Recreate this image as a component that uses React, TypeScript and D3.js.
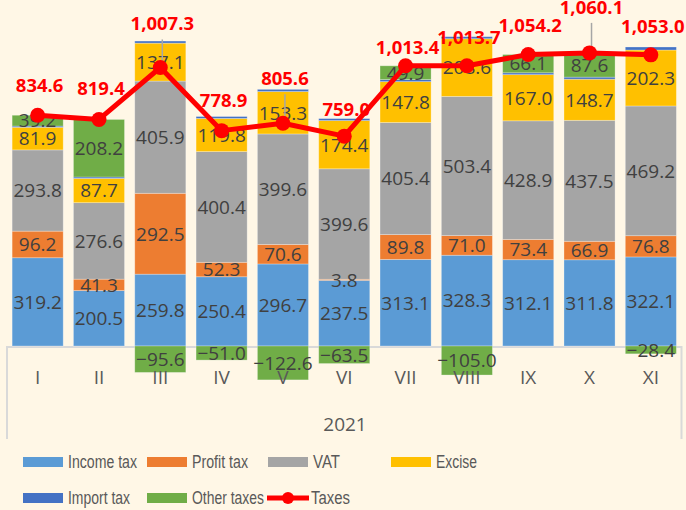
import React from 'react';
import * as d3 from 'd3';

const months = ['I', 'II', 'III', 'IV', 'V', 'VI', 'VII', 'VIII', 'IX', 'X', 'XI'];
const incomeTax = [319.2, 200.5, 259.8, 250.4, 296.7, 237.5, 313.1, 328.3, 312.1, 311.8, 322.1];
const profitTax = [96.2, 41.3, 292.5, 52.3, 70.6, 3.8, 89.8, 71.0, 73.4, 66.9, 76.8];
const vat = [293.8, 276.6, 405.9, 400.4, 399.6, 399.6, 405.4, 503.4, 428.9, 437.5, 469.2];
const excise = [81.9, 87.7, 137.1, 119.8, 153.3, 174.4, 147.8, 208.6, 167.0, 148.7, 202.3];
const importTax = [4.3, 5.1, 7.6, 7.0, 8.0, 7.2, 7.4, 7.4, 6.7, 7.6, 11.0];
const otherTaxes = [39.2, 208.2, -95.6, -51.0, -122.6, -63.5, 49.9, -105.0, 66.1, 87.6, -28.4];
const totalTaxes = [834.6, 819.4, 1007.3, 778.9, 805.6, 759.0, 1013.4, 1013.7, 1054.2, 1060.1, 1053.0];
const yearLabel = '2021';

const seriesNames = ['Income tax', 'Profit tax', 'VAT', 'Excise', 'Import tax', 'Other taxes'];
const seriesColors = ['#5B9BD5', '#ED7D31', '#A5A5A5', '#FFC000', '#4472C4', '#70AD47'];
const seriesLabelled = [true, true, true, true, false, true];

// how far the red total labels sit above their point (some were dragged up in the original)
const totalLabelLift = [23, 24, 37, 24, 38, 20, 12, 22, 23, 39, 22];

const width = 686;
const height = 510;
const bg = '#FFF7E6';
const fmt = d3.format(',.1f');

export default function App() {
    const columns = [incomeTax, profitTax, vat, excise, importTax, otherTaxes];
    const rows = months.map((m, i) => {
        const r: any = { month: m };
        seriesNames.forEach((s, k) => { r[s] = columns[k][i]; });
        return r;
    });

    const stacked = d3.stack<any>()
        .keys(seriesNames)
        .offset(d3.stackOffsetDiverging)(rows);

    const x = d3.scaleBand()
        .domain(months)
        .range([7, 681.5])
        .paddingInner(0.167)
        .paddingOuter(0.0835);

    const y = d3.scaleLinear()
        .domain([0, 1000])
        .range([346, 69.5]);

    const cx = (m: string) => (x(m) as number) + x.bandwidth() / 2;

    const line = d3.line<number>()
        .x((d, i) => cx(months[i]))
        .y(d => y(d));

    const dataFont = "'Open Sans', sans-serif";
    const legendFont = "'Liberation Sans', Arial, sans-serif";

    // legend slots; text squeezed to look like a narrow face
    const legendItems = [
        { name: 'Income tax', color: seriesColors[0], x: 23, y: 462, w: 69 },
        { name: 'Profit tax', color: seriesColors[1], x: 147, y: 462, w: 56 },
        { name: 'VAT', color: seriesColors[2], x: 268, y: 462, w: 27 },
        { name: 'Excise', color: seriesColors[3], x: 391, y: 462, w: 41 },
        { name: 'Import tax', color: seriesColors[4], x: 23, y: 498, w: 62 },
        { name: 'Other taxes', color: seriesColors[5], x: 147, y: 498, w: 72 },
    ];

    return (
        <svg width={width} height={height} style={{ position: 'absolute', left: 0, top: 0 }}>
            <rect width={width} height={height} fill={bg} />

            {/* category axis box */}
            <g stroke="#D9D9D9" strokeWidth={2} fill="none">
                <line x1={7} x2={681.5} y1={347} y2={347} />
                <line x1={7} x2={7} y1={346} y2={439} />
                <line x1={681.5} x2={681.5} y1={346} y2={439} />
            </g>

            {/* stacked bars */}
            {stacked.map((s, k) => (
                <g key={s.key} fill={seriesColors[k]}>
                    {s.map((d, i) => {
                        const top = y(Math.max(d[0], d[1]));
                        const bot = y(Math.min(d[0], d[1]));
                        return (
                            <rect key={i}
                                x={x(months[i])}
                                y={top}
                                width={x.bandwidth()}
                                height={Math.max(0, bot - top)}
                                stroke="#ffffff" strokeOpacity={0.35} strokeWidth={0.8} />
                        );
                    })}
                </g>
            ))}

            {/* segment labels */}
            {stacked.map((s, k) => seriesLabelled[k] && (
                <g key={'lab' + s.key} fontFamily={dataFont} fontSize={19} fill="#404040" textAnchor="middle">
                    {s.map((d, i) => (
                        <text key={i} x={cx(months[i])} y={y((d[0] + d[1]) / 2)} dy="0.36em">
                            {fmt(columns[k][i])}
                        </text>
                    ))}
                </g>
            ))}

            {/* month labels */}
            <g fontFamily={dataFont} fontSize={19} fill="#595959" textAnchor="middle">
                {months.map(m => (
                    <text key={m} x={cx(m)} y={384}>{m}</text>
                ))}
                <text x={345} y={431}>{yearLabel}</text>
            </g>

            {/* leader lines for moved labels */}
            <g stroke="#A6A6A6" strokeWidth={1.5}>
                {totalTaxes.map((v, i) => totalLabelLift[i] > 30 && (
                    <line key={i}
                        x1={cx(months[i]) + 2} x2={cx(months[i]) + 2}
                        y1={y(v) - totalLabelLift[i] + 9} y2={y(v)} />
                ))}
            </g>

            {/* taxes line */}
            <path d={line(totalTaxes) as string} fill="none" stroke="#FF0000" strokeWidth={5} strokeLinejoin="round" />
            <g fill="#FF0000">
                {totalTaxes.map((v, i) => (
                    <circle key={i} cx={cx(months[i])} cy={y(v)} r={7.5} />
                ))}
            </g>
            <g fontFamily={dataFont} fontSize={18.5} fontWeight={700} fill="#FF0000" textAnchor="middle">
                {totalTaxes.map((v, i) => (
                    <text key={i} x={cx(months[i]) + 2} y={y(v) - totalLabelLift[i]}>{fmt(v)}</text>
                ))}
            </g>

            {/* legend */}
            <g fontFamily={legendFont} fontSize={17.5} fill="#595959">
                {legendItems.map(it => (
                    <g key={it.name}>
                        <rect x={it.x} y={it.y - 5} width={40} height={10} fill={it.color} />
                        <text x={it.x + 45} y={it.y} dy="0.35em" textLength={it.w} lengthAdjust="spacingAndGlyphs">{it.name}</text>
                    </g>
                ))}
                <line x1={267} x2={309} y1={498} y2={498} stroke="#FF0000" strokeWidth={5} />
                <circle cx={288} cy={498} r={6} fill="#FF0000" />
                <text x={311} y={498} dy="0.35em" textLength={39} lengthAdjust="spacingAndGlyphs">Taxes</text>
            </g>
        </svg>
    );
}
